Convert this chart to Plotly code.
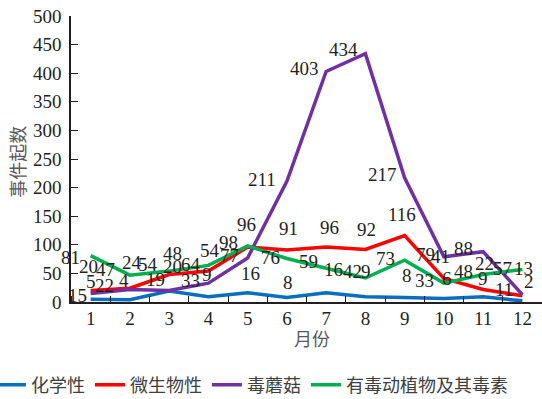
import plotly.graph_objects as go

# Monthly counts of poisoning events by cause
months = list(range(1, 13))
month_labels = [str(m) for m in months]
chemical = [5, 4, 19, 9, 16, 8, 16, 9, 8, 6, 9, 2]
microbial = [20, 24, 48, 54, 96, 91, 96, 92, 116, 41, 22, 11]
mushroom = [15, 22, 20, 33, 77, 211, 403, 434, 217, 79, 88, 13]
plants_animals = [81, 47, 54, 64, 98, 76, 59, 42, 73, 33, 48, 57]

y_ticks = list(range(0, 501, 50))

series = [
    ("化学性", chemical, "#0A6EC0"),
    ("微生物性", microbial, "#FF0000"),
    ("毒蘑菇", mushroom, "#7030A0"),
    ("有毒动植物及其毒素", plants_animals, "#00B050"),
]

# Pixel offsets (dx, dy) of each value label from its point
label_offsets = {
    "化学性": [(0, 17), (-6, 18), (-14, 11), (-1, 21), (3, 18), (1, 14),
              (7, 22), (1, 24), (2, 21), (3, 19), (0, 17), (7, 18)],
    "微生物性": [(-2, 23), (2, 25), (3, 20), (2, 20), (-1, 22), (2, 20),
                (3, 19), (1, 19), (-3, 20), (-3, 21), (1, 25), (-18, 5)],
    "毒蘑菇": [(-13, -3), (-25, 3), (3, 23), (-18, 2), (-18, 1), (-25, 1),
              (-22, 2), (-22, 3), (-22, 2), (-18, 1), (-20, 2), (1, 25)],
    "有毒动植物及其毒素": [(-20, -3), (-24, 5), (-21, 6), (-17, 0), (-19, 2), (-16, 0),
                        (-18, 6), (-13, 5), (-19, 1), (-19, 2), (-20, 2), (-20, 0)],
}

num_font = "Liberation Serif, Times New Roman, serif"
cjk_font = "Noto Sans CJK SC, sans-serif"
text_color = "#231F20"

fig = go.Figure()
annotations = []
for name, values, color in series:
    fig.add_trace(go.Scatter(
        x=months, y=values, mode="lines", name=name,
        line=dict(color=color, width=3.5), cliponaxis=False,
    ))
    for m, v, (dx, dy) in zip(months, values, label_offsets[name]):
        annotations.append(dict(
            x=m, y=v, xref="x", yref="y", text=str(v), showarrow=False,
            xshift=dx, yshift=dy + 1,
            font=dict(family=num_font, size=19, color=text_color),
        ))

# Axis titles
annotations.append(dict(
    text="事件起数", xref="paper", yref="paper", x=-0.115, y=0.49,
    xanchor="center", yanchor="middle", textangle=-90, showarrow=False,
    font=dict(family=cjk_font, size=18, color="#595959"),
))
annotations.append(dict(
    text="月份", xref="paper", yref="paper", x=0.5117, y=-0.126,
    xanchor="center", yanchor="middle",
    showarrow=False, font=dict(family=cjk_font, size=18, color="#595959"),
))

fig.update_layout(
    width=542, height=399,
    margin=dict(l=71, r=0, t=16, b=97, autoexpand=False),
    paper_bgcolor="white", plot_bgcolor="white",
    annotations=annotations,
    showlegend=True,
    legend=dict(
        orientation="h", xref="paper", yref="paper",
        x=-0.17, xanchor="left", y=-0.29, yanchor="middle",
        font=dict(family=cjk_font, size=18, color="#404040"),
        bgcolor="rgba(0,0,0,0)",
    ),
    xaxis=dict(
        range=[0.5, 12.5], tickvals=months, ticktext=month_labels,
        ticks="", showgrid=False, zeroline=False,
        showline=True, linecolor=text_color, linewidth=1.5,
        tickfont=dict(family=num_font, size=19, color=text_color),
        ticklabelstandoff=-2,
        minor=dict(tick0=0.5, dtick=1, ticks="inside", ticklen=6,
                   tickcolor=text_color, tickwidth=1.2, showgrid=False),
    ),
    yaxis=dict(
        range=[0, 500], tickvals=y_ticks, ticks="inside", ticklen=7,
        tickcolor=text_color, tickwidth=1.2, showgrid=False, zeroline=False,
        showline=True, linecolor=text_color, linewidth=1.5,
        tickfont=dict(family=num_font, size=19, color=text_color),
        ticklabelstandoff=4,
    ),
)

fig.write_html("out.html")
